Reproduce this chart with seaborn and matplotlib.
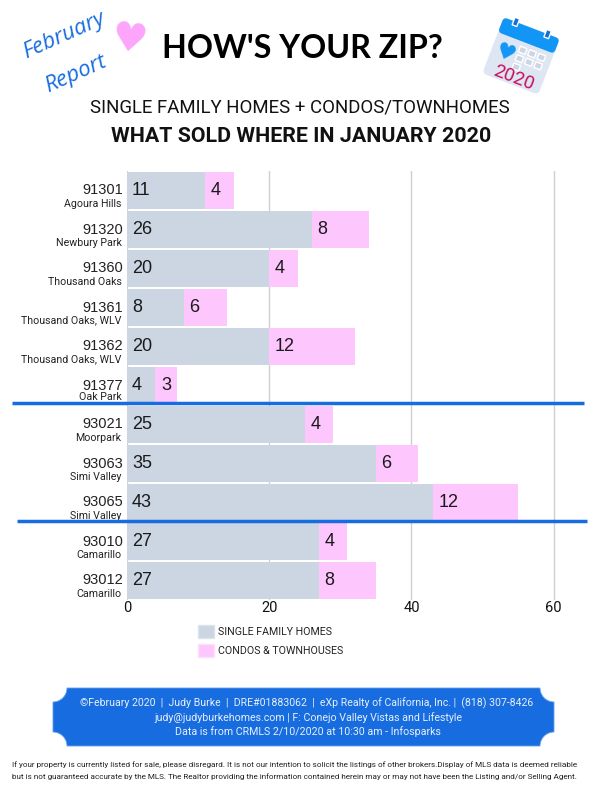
#!/usr/bin/env python3

import matplotlib

matplotlib.use("Agg")
import matplotlib.pyplot as plt
from matplotlib.patches import FancyBboxPatch, Patch, PathPatch, Rectangle
from matplotlib.path import Path
from matplotlib.transforms import Affine2D
import pandas as pd
import seaborn as sns

zips = ["91301", "91320", "91360", "91361", "91362", "91377",
        "93021", "93063", "93065", "93010", "93012"]
places = ["Agoura Hills", "Newbury Park", "Thousand Oaks", "Thousand Oaks, WLV",
          "Thousand Oaks, WLV", "Oak Park", "Moorpark", "Simi Valley",
          "Simi Valley", "Camarillo", "Camarillo"]
single_family = [11, 26, 20, 8, 20, 4, 25, 35, 43, 27, 27]
condos = [4, 8, 4, 6, 12, 3, 4, 6, 12, 4, 8]
x_ticks = [0, 20, 40, 60]
legend_labels = ["SINGLE FAMILY HOMES", "CONDOS & TOWNHOUSES"]

GREY = "#cbd6e2"
PINK = "#fdc6fd"
BLUE = "#176de0"

sns.set_theme(style="white")
plt.rcParams["font.family"] = ["Roboto", "DejaVu Sans"]

df = pd.DataFrame({"zip": zips, "sfh": single_family, "condo": condos})
df["total"] = df["sfh"] + df["condo"]

fig = plt.figure(figsize=(6, 8), dpi=100, facecolor="white")
ax = fig.add_axes([127 / 600, 1 - 600 / 800, 455 / 600, 429 / 800])

# stacked: totals first, single family on top
sns.barplot(data=df, x="total", y="zip", color=PINK, saturation=1, width=0.95,
            linewidth=0, ax=ax, zorder=2)
sns.barplot(data=df, x="sfh", y="zip", color=GREY, saturation=1, width=0.95,
            linewidth=0, ax=ax, zorder=3)

ax.set_xlim(0, 64)
ax.set_xticks(x_ticks)
ax.set_xlabel("")
ax.set_ylabel("")
ax.set_yticklabels([])
ax.tick_params(axis="both", length=0)
ax.tick_params(axis="x", labelsize=10.5, labelcolor="#111111", pad=1)
ax.xaxis.grid(True, color="#cfcfcf", linewidth=1, zorder=0)
ax.set_axisbelow(True)
sns.despine(ax=ax, left=True, bottom=True, top=True, right=True)

for i, (z, place, s, c) in enumerate(zip(zips, places, single_family, condos)):
    ax.annotate(str(s), (0, i), xytext=(3.6, 0), textcoords="offset points",
                va="center", ha="left", fontsize=13, color="#1a1a1a",
                family="Liberation Sans", zorder=5)
    ax.annotate(str(c), (s, i), xytext=(4, 0), textcoords="offset points",
                va="center", ha="left", fontsize=13, color="#1a1a1a",
                family="Liberation Sans", zorder=5)
    ax.annotate(z, (0, i), xytext=(-3, 0), textcoords="offset points",
                va="center", ha="right", fontsize=10.5, color="#222222",
                family="Liberation Sans", annotation_clip=False)
    sub_offset = -8.5 if place == "Oak Park" else -9.5
    ax.annotate(place, (0, i), xytext=(-4, sub_offset), textcoords="offset points",
                va="center", ha="right", fontsize=7.7, color="#222222", annotation_clip=False)

handles = [Patch(facecolor=GREY, edgecolor="#dde4ee"), Patch(facecolor=PINK, edgecolor="#fde0fd")]
fig.legend(handles, legend_labels, loc="upper left", bbox_to_anchor=(188 / 600, 1 - 615 / 800),
           frameon=False, fontsize=7.7, handlelength=1.5, handleheight=1.6,
           handletextpad=0.45, labelspacing=0.5, labelcolor="#222222")

# overlay in pixel coordinates for the poster furniture
over = fig.add_axes([0, 0, 1, 1], zorder=10)
over.set_xlim(0, 600)
over.set_ylim(800, 0)
over.axis("off")

over.plot([12, 584], [403, 403], color=BLUE, linewidth=2.5, solid_capstyle="butt")
over.plot([17, 587], [521, 521], color=BLUE, linewidth=2.5, solid_capstyle="butt")

over.text(302, 48, "HOW'S YOUR ZIP?", ha="center", va="center", fontsize=23.2,
          fontweight="bold", family="Lato", color="black")
over.text(300, 108, "SINGLE FAMILY HOMES + CONDOS/TOWNHOMES", ha="center", va="center",
          fontsize=13.4, color="#111111")
over.text(301, 136, "WHAT SOLD WHERE IN JANUARY 2020", ha="center", va="center",
          fontsize=15.4, fontweight="bold", color="#111111")

over.text(64, 36, "February", rotation=24, ha="center", va="center", fontsize=16,
          family="Open Sans", style="italic", color=BLUE)
over.text(76, 74, "Report", rotation=24, ha="center", va="center", fontsize=16,
          family="Open Sans", style="italic", color=BLUE)
over.text(129, 41, "\u2665", rotation=-8, ha="center", va="center", fontsize=29,
          family="DejaVu Sans", color="#fda4fb")

# calendar icon, drawn flat then rotated around its centre
rot = Affine2D().rotate_deg_around(521, 56, 21) + over.transData
body = FancyBboxPatch((491, 26), 60, 60, boxstyle="round,pad=0,rounding_size=5",
                      facecolor="#dfe6f3", edgecolor="none", transform=rot)
over.add_patch(body)
head = FancyBboxPatch((491, 26), 60, 16, boxstyle="round,pad=0,rounding_size=4",
                      facecolor="#1296f6", edgecolor="none", transform=rot)
over.add_patch(head)
for px in (504, 538):
    over.add_patch(Rectangle((px - 2.5, 22), 5, 8, facecolor="#1270d8", transform=rot))
for py in (47, 56):
    for px in (517, 527, 537):
        over.add_patch(Rectangle((px, py), 7, 6, facecolor="#ccd5e2", transform=rot))
over.add_patch(Rectangle((517, 65), 7, 6, facecolor="#ccd5e2", transform=rot))
over.text(505, 54, "\u2665", rotation=-21, ha="center", va="center", fontsize=16,
          family="DejaVu Sans", color="#1296f6")
over.text(514, 78, "2020", rotation=-21, ha="center", va="center", fontsize=13.5,
          color="#c9115f")

# footer plaque with scooped corners
x0, x1, y0, y1, r = 53, 554, 688, 746, 14
k = 0.55 * r
verts = [
    (x0 + r, y0), (x1 - r, y0),
    (x1 - r, y0 + k), (x1 - k, y0 + r), (x1, y0 + r),
    (x1, y1 - r),
    (x1 - k, y1 - r), (x1 - r, y1 - k), (x1 - r, y1),
    (x0 + r, y1),
    (x0 + r, y1 - k), (x0 + k, y1 - r), (x0, y1 - r),
    (x0, y0 + r),
    (x0 + k, y0 + r), (x0 + r, y0 + k), (x0 + r, y0),
    (x0 + r, y0),
]
codes = [Path.MOVETO, Path.LINETO,
         Path.CURVE4, Path.CURVE4, Path.CURVE4,
         Path.LINETO,
         Path.CURVE4, Path.CURVE4, Path.CURVE4,
         Path.LINETO,
         Path.CURVE4, Path.CURVE4, Path.CURVE4,
         Path.LINETO,
         Path.CURVE4, Path.CURVE4, Path.CURVE4,
         Path.CLOSEPOLY]
over.add_patch(PathPatch(Path(verts, codes), facecolor=BLUE, edgecolor="#5f9fee", linewidth=0.6))

over.text(307, 703, "©February 2020  |  Judy Burke  |  DRE#01883062  |  eXp Realty of California, Inc. |  (818) 307-8426",
          ha="center", va="center", fontsize=7.6, color="#e6effc")
over.text(308, 718, "judy@judyburkehomes.com | F: Conejo Valley Vistas and Lifestyle",
          ha="center", va="center", fontsize=7.7, color="#e6effc")
over.text(308, 732, "Data is from CRMLS 2/10/2020 at 10:30 am - Infosparks",
          ha="center", va="center", fontsize=7.7, color="#e6effc")

over.text(295, 765, "If your property is currently listed for sale, please disregard. It is not our intention to solicit the listings of other brokers.Display of MLS data is deemed reliable",
          ha="center", va="center", fontsize=5.85, color="#222222")
over.text(294, 777, "but is not guaranteed accurate by the MLS. The Realtor providing the information contained herein may or may not have been the Listing and/or Selling Agent.",
          ha="center", va="center", fontsize=5.85, color="#222222")

fig.savefig("out.png", dpi=100)
